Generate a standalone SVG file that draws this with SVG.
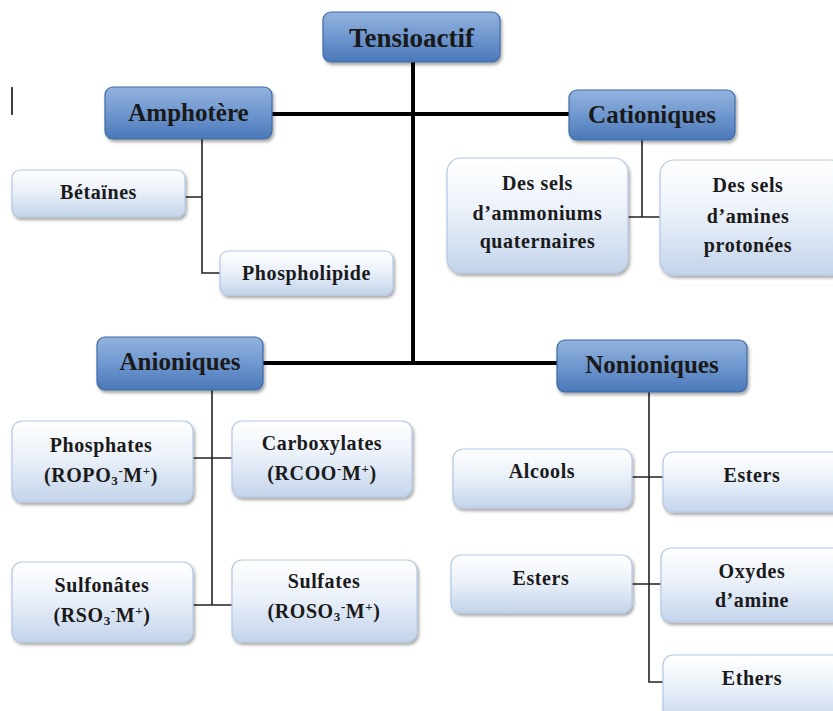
<svg xmlns="http://www.w3.org/2000/svg" width="833" height="711" viewBox="0 0 833 711">
<style>
.hd{fill:url(#gHead);stroke:#3D6BA6;stroke-width:1.2}
.ch{fill:url(#gChild);stroke:#B4C8E4;stroke-width:1.2}
.t{font-family:"Liberation Serif","Times New Roman",serif;font-weight:bold;fill:#1a1a1a;text-anchor:middle}
.th{font-size:25px}
.tr{font-size:27px}
.tc{font-size:20px;letter-spacing:0.6px}
.main{stroke:#000;stroke-width:4;fill:none}
.sub{stroke:#222;stroke-width:1.6;fill:none}
</style>
<defs>
<linearGradient id="gHead" x1="0" y1="0" x2="0" y2="1">
<stop offset="0" stop-color="#93B3DD"/>
<stop offset="0.5" stop-color="#6F97CF"/>
<stop offset="1" stop-color="#4A78B8"/>
</linearGradient>
<linearGradient id="gChild" x1="0" y1="0" x2="0" y2="1">
<stop offset="0" stop-color="#FFFFFF"/>
<stop offset="0.45" stop-color="#EBF1F9"/>
<stop offset="1" stop-color="#C3D4EB"/>
</linearGradient>
<filter id="sh" x="-10%" y="-10%" width="130%" height="140%">
<feDropShadow dx="1.5" dy="2.5" stdDeviation="1.5" flood-color="#000" flood-opacity="0.35"/>
</filter>
</defs>
<line x1="12" y1="87" x2="12" y2="115" stroke="#000" stroke-width="1.5"/>
<g id="connectors">
<path class="main" d="M413 62 V363"/>
<path class="main" d="M272 114 H569"/>
<path class="main" d="M263 363 H557"/>
<path class="sub" d="M202 139 V273 H220 M185 197 H202"/>
<path class="sub" d="M642 140 V217 M628 217 H660"/>
<path class="sub" d="M212 390 V605 M193 458 H232 M193 605 H232"/>
<path class="sub" d="M649 392 V682 H663 M632 477 H663 M632 584 H661"/>
</g>
<g id="tensioactif"><rect class="hd" x="323" y="12" width="177" height="50" rx="8" filter="url(#sh)"/><text class="t tr" x="411.5" y="47">Tensioactif</text></g>
<g id="amphotere"><rect class="hd" x="105" y="87" width="167" height="52" rx="8" filter="url(#sh)"/><text class="t th" x="188.5" y="121">Amphotère</text></g>
<g id="cationiques"><rect class="hd" x="569" y="90" width="166" height="50" rx="8" filter="url(#sh)"/><text class="t th" x="652" y="123">Cationiques</text></g>
<g id="anioniques"><rect class="hd" x="97" y="337" width="166" height="53" rx="8" filter="url(#sh)"/><text class="t th" x="180" y="370">Anioniques</text></g>
<g id="nonioniques"><rect class="hd" x="557" y="340" width="190" height="52" rx="8" filter="url(#sh)"/><text class="t th" x="652" y="373">Nonioniques</text></g>
<g id="betaines"><rect class="ch" x="12" y="170" width="173" height="47" rx="8" filter="url(#sh)"/><text class="t tc" x="98.5" y="199">Bétaïnes</text></g>
<g id="phospholipide"><rect class="ch" x="220" y="251" width="173" height="44" rx="8" filter="url(#sh)"/><text class="t tc" x="306.5" y="280">Phospholipide</text></g>
<g id="ammoniums"><rect class="ch" x="447" y="158" width="181" height="115" rx="14" filter="url(#sh)"/><text class="t tc" x="537.5" y="190">Des sels</text><text class="t tc" x="537.5" y="220">d’ammoniums</text><text class="t tc" x="537.5" y="248">quaternaires</text></g>
<g id="amines"><rect class="ch" x="660" y="160" width="185" height="115" rx="14" filter="url(#sh)"/><text class="t tc" x="748" y="192">Des sels</text><text class="t tc" x="748" y="223">d’amines</text><text class="t tc" x="748" y="252">protonées</text></g>
<g id="phosphates"><rect class="ch" x="12" y="421" width="181" height="81" rx="10" filter="url(#sh)"/><text class="t tc" x="101" y="452">Phosphates</text><text class="t tc" x="101" y="482">(ROPO<tspan font-size="13" dy="3">3</tspan><tspan font-size="13" dy="-10">-</tspan><tspan dy="7">M</tspan><tspan font-size="13" dy="-7">+</tspan><tspan dy="7">)</tspan></text></g>
<g id="carboxylates"><rect class="ch" x="232" y="421" width="180" height="76" rx="10" filter="url(#sh)"/><text class="t tc" x="322" y="450">Carboxylates</text><text class="t tc" x="322" y="480">(RCOO<tspan font-size="13" dy="-7">-</tspan><tspan dy="7">M</tspan><tspan font-size="13" dy="-7">+</tspan><tspan dy="7">)</tspan></text></g>
<g id="sulfonates"><rect class="ch" x="12" y="562" width="181" height="80" rx="10" filter="url(#sh)"/><text class="t tc" x="102" y="592">Sulfonâtes</text><text class="t tc" x="102" y="622">(RSO<tspan font-size="13" dy="3">3</tspan><tspan font-size="13" dy="-10">-</tspan><tspan dy="7">M</tspan><tspan font-size="13" dy="-7">+</tspan><tspan dy="7">)</tspan></text></g>
<g id="sulfates"><rect class="ch" x="232" y="560" width="185" height="82" rx="10" filter="url(#sh)"/><text class="t tc" x="324" y="588">Sulfates</text><text class="t tc" x="324" y="618">(ROSO<tspan font-size="13" dy="3">3</tspan><tspan font-size="13" dy="-10">-</tspan><tspan dy="7">M</tspan><tspan font-size="13" dy="-7">+</tspan><tspan dy="7">)</tspan></text></g>
<g id="alcools"><rect class="ch" x="453" y="449" width="179" height="59" rx="10" filter="url(#sh)"/><text class="t tc" x="542" y="478">Alcools</text></g>
<g id="esters-right"><rect class="ch" x="663" y="452" width="185" height="60" rx="10" filter="url(#sh)"/><text class="t tc" x="752" y="482">Esters</text></g>
<g id="esters-left"><rect class="ch" x="451" y="555" width="181" height="58" rx="10" filter="url(#sh)"/><text class="t tc" x="541" y="585">Esters</text></g>
<g id="oxydes"><rect class="ch" x="661" y="548" width="185" height="74" rx="10" filter="url(#sh)"/><text class="t tc" x="752" y="578">Oxydes</text><text class="t tc" x="752" y="607">d’amine</text></g>
<g id="ethers"><rect class="ch" x="663" y="655" width="185" height="70" rx="10" filter="url(#sh)"/><text class="t tc" x="752" y="685">Ethers</text></g>
</svg>
